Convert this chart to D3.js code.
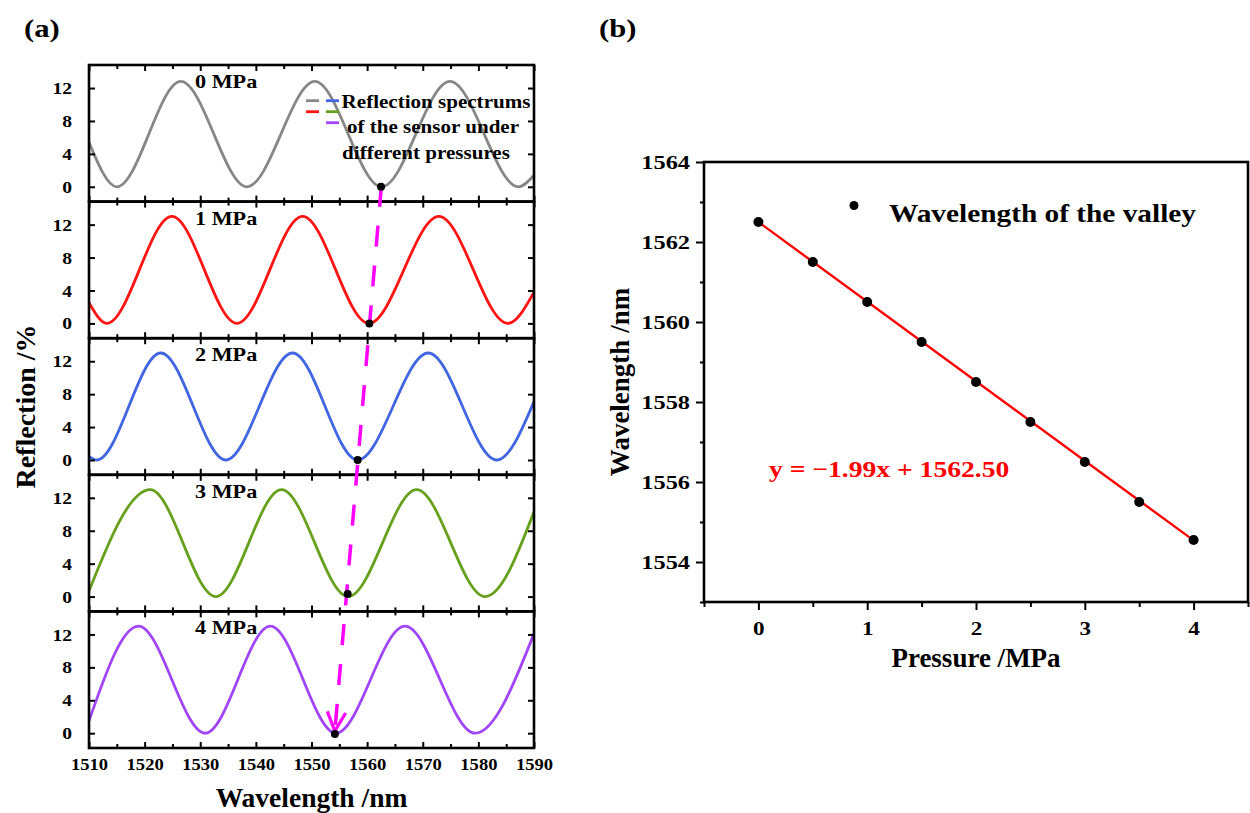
<!DOCTYPE html>
<html><head><meta charset="utf-8">
<script src="https://cdn.jsdelivr.net/npm/d3@7"></script>
<style>
body{margin:0;background:#fff;}
svg{display:block;font-family:"Liberation Serif","Times New Roman",serif;font-weight:bold;}
svg text{font-family:"Liberation Serif","Times New Roman",serif !important;font-weight:bold;}
</style></head><body>
<svg id="chart" width="1250" height="813"></svg>
<script>
// ================= DATA =================
// (a) reflection spectra: key points (edges, valleys, peaks)
const pressureLabels = ["0 MPa", "1 MPa", "2 MPa", "3 MPa", "4 MPa"];
const wl0 = [1510, 1515.0, 1526.5, 1538.4, 1550.6, 1562.6, 1574.9, 1587.2, 1590];
const r0  = [5.4, 0, 12.8, 0, 12.8, 0, 12.8, 0, 1.4];
const wl1 = [1510, 1513.2, 1524.9, 1536.6, 1548.4, 1560.3, 1572.9, 1585.3, 1590];
const r1  = [2.5, 0, 13.0, 0, 13.0, 0, 13.0, 0, 3.8];
const wl2 = [1510, 1511.4, 1522.9, 1534.6, 1546.6, 1558.3, 1571.0, 1583.3, 1590];
const r2  = [0.4, 0, 13.0, 0, 13.0, 0, 13.0, 0, 7.1];
const wl3 = [1509.6, 1521.0, 1532.8, 1544.6, 1556.6, 1568.9, 1581.2, 1590];
const r3  = [0, 13.0, 0, 13.0, 0, 13.0, 0, 10.3];
const wl4 = [1510, 1518.9, 1530.9, 1542.6, 1554.4, 1566.8, 1579.4, 1590];
const r4  = [1.5, 13.0, 0, 13.0, 0, 13.0, 0, 12.1];
// valley markers drawn in panel (a)
const valleyMarkWl = [1562.5, 1560.4, 1558.3, 1556.5, 1554.2];
const valleyMarkR  = [0, 0, 0, 0.3, -0.1];
const reflTicks = [0, 4, 8, 12];
const wlMajorTicks = [1510, 1520, 1530, 1540, 1550, 1560, 1570, 1580, 1590];
const wlMinorTicks = [1515, 1525, 1535, 1545, 1555, 1565, 1575, 1585];
const legendLinesA = ["Reflection spectrums", "of the sensor under", "different pressures"];

// (b) valley wavelength vs pressure
const pressure = [0, 0.5, 1, 1.5, 2, 2.5, 3, 3.5, 4];
const valleyWavelength = [1562.5, 1561.5, 1560.5, 1559.5, 1558.5, 1557.5, 1556.5, 1555.5, 1554.55];
const fitSlope = -1.99;
const fitIntercept = 1562.50;
const pMajorTicks = [0, 1, 2, 3, 4];
const pMinorTicks = [-0.5, 0.5, 1.5, 2.5, 3.5, 4.5];
const wMajorTicks = [1554, 1556, 1558, 1560, 1562, 1564];
const wMinorTicks = [1553, 1555, 1557, 1559, 1561, 1563];

// ================= STYLE =================
const spectrumColors = ["#878787", "#ff1414", "#4166e0", "#67a01c", "#a146f7"];
const arrowColor = "#ff00ff";

// ================= DRAW =================
const svg = d3.select("#chart");
const specWl = [wl0, wl1, wl2, wl3, wl4];
const specR = [r0, r1, r2, r3, r4];

function stext(g, x, y, s, size, sx, anchor, fill) {
  return g.append("text")
    .attr("transform", `translate(${x},${y}) scale(${sx},1)`)
    .attr("font-size", size)
    .attr("text-anchor", anchor || "start")
    .attr("fill", fill || "#000")
    .text(s);
}
function styleAxis(g, sw) {
  g.attr("font-family", null).attr("font-size", null);
  g.select(".domain").remove();
  g.selectAll(".tick line").attr("stroke", "#000").attr("stroke-width", sw || 2);
}

// ---------- panel (a) ----------
const A = {x0: 89, x1: 534, y0: 65, y1: 748};
const ph = (A.y1 - A.y0) / 5;
const xA = d3.scaleLinear().domain([1510, 1590]).range([A.x0, A.x1]);
const yA = i => d3.scaleLinear().domain([-1.8, 14.8]).range([A.y0 + (i + 1) * ph, A.y0 + i * ph]);

const gA = svg.append("g");
svg.append("defs").selectAll("clipPath").data(d3.range(5)).join("clipPath")
  .attr("id", i => "clipA" + i)
  .append("rect").attr("x", A.x0).attr("y", i => A.y0 + i * ph).attr("width", A.x1 - A.x0).attr("height", ph);

for (let i = 0; i < 5; i++) {
  const ys = yA(i);
  const top = A.y0 + i * ph, bot = A.y0 + (i + 1) * ph;
  const pts = specWl[i].map((w, k) => [w, specR[i][k]]);
  const line = d3.line().x(d => xA(d[0])).y(d => ys(d[1])).curve(d3.curveMonotoneX);
  gA.append("path").attr("d", line(pts)).attr("fill", "none")
    .attr("stroke", spectrumColors[i]).attr("stroke-width", 2.8)
    .attr("clip-path", `url(#clipA${i})`);

  // y axis left (inward ticks with labels)
  const ayl = gA.append("g").attr("transform", `translate(${A.x0},0)`)
    .call(d3.axisLeft(ys).tickValues(reflTicks).tickSizeInner(-6).tickSizeOuter(0).tickPadding(15.2));
  styleAxis(ayl);
  ayl.selectAll("text").attr("font-size", 17.5).attr("fill", "#000")
    .attr("transform", "scale(1.12,1)");
  // y axis right (inward ticks)
  const ayr = gA.append("g").attr("transform", `translate(${A.x1},0)`)
    .call(d3.axisRight(ys).tickValues(reflTicks).tickSizeInner(-6).tickSizeOuter(0).tickFormat(""));
  styleAxis(ayr);
  // top & bottom x ticks (inward)
  [[top, d3.axisTop], [bot, d3.axisBottom]].forEach(([yy, ax]) => {
    const gM = gA.append("g").attr("transform", `translate(0,${yy})`)
      .call(ax(xA).tickValues(wlMajorTicks).tickSizeInner(-6).tickSizeOuter(0).tickFormat(""));
    styleAxis(gM);
    const gm = gA.append("g").attr("transform", `translate(0,${yy})`)
      .call(ax(xA).tickValues(wlMinorTicks).tickSizeInner(-4).tickSizeOuter(0).tickFormat(""));
    styleAxis(gm);
  });
  // panel frame
  gA.append("rect").attr("x", A.x0).attr("y", top).attr("width", A.x1 - A.x0).attr("height", ph)
    .attr("fill", "none").attr("stroke", "#000").attr("stroke-width", 2.6);
  // panel label
  stext(gA, 195, top + 23, pressureLabels[i], 18.5, 1.2, "start");
}
// bottom x labels
const axb = gA.append("g").attr("transform", `translate(0,${A.y1})`)
  .call(d3.axisBottom(xA).tickValues(wlMajorTicks).tickSizeInner(-6).tickSizeOuter(0).tickPadding(10.5).tickFormat(d3.format("d")));
axb.attr("font-family", null).attr("font-size", null);
axb.selectAll("line").remove();
axb.select(".domain").remove();
axb.selectAll("text").attr("font-size", 16).attr("fill", "#000")
  .attr("transform", "scale(1.16,1)");

// valley markers + arrow
const markPts = valleyMarkWl.map((w, i) => [xA(w), yA(i)(valleyMarkR[i])]);
const p0 = [markPts[0][0], markPts[0][1] + 3];
const p1 = [markPts[4][0], markPts[4][1] - 3];
gA.append("line").attr("x1", p0[0]).attr("y1", p0[1]).attr("x2", p1[0]).attr("y2", p1[1])
  .attr("stroke", arrowColor).attr("stroke-width", 3.5)
  .attr("stroke-dasharray", "21,19").attr("stroke-dashoffset", 4);
{
  const ang = Math.atan2(p0[1] - p1[1], p0[0] - p1[0]);
  const wing = 21, spread = 26 * Math.PI / 180;
  const w1 = [p1[0] + wing * Math.cos(ang - spread), p1[1] + wing * Math.sin(ang - spread)];
  const w2 = [p1[0] + wing * Math.cos(ang + spread), p1[1] + wing * Math.sin(ang + spread)];
  gA.append("path").attr("d", `M${w1[0]},${w1[1]}L${p1[0]},${p1[1]}L${w2[0]},${w2[1]}`)
    .attr("fill", "none").attr("stroke", arrowColor).attr("stroke-width", 3.2).attr("stroke-linejoin", "miter");
}
gA.selectAll("circle.vm").data(markPts).join("circle").attr("class", "vm")
  .attr("cx", d => d[0]).attr("cy", d => d[1]).attr("r", 4).attr("fill", "#000");

// legend of (a)
const legA = gA.append("g");
const legSlots = [[306, 100.7], [326, 100.7], [306, 111.7], [326, 111.7], [326, 122.7]];
const legOrder = [0, 2, 1, 3, 4];
legSlots.forEach((s, k) => {
  legA.append("line").attr("x1", s[0]).attr("x2", s[0] + 13).attr("y1", s[1]).attr("y2", s[1])
    .attr("stroke", spectrumColors[legOrder[k]]).attr("stroke-width", 2.8);
});
stext(legA, 436, 108, legendLinesA[0], 19.5, 1.08, "middle");
stext(legA, 433, 133, legendLinesA[1], 19.5, 1.08, "middle");
stext(legA, 426, 158.5, legendLinesA[2], 19.5, 1.08, "middle");

// titles (a)
stext(svg, 311.5, 806.5, "Wavelength /nm", 27.5, 1, "middle");
svg.append("text").attr("transform", "translate(35,406.5) rotate(-90)")
  .attr("font-size", 28).attr("text-anchor", "middle").text("Reflection /%");
stext(svg, 24, 37, "(a)", 26, 1.18, "start");
stext(svg, 599, 37, "(b)", 26, 1.18, "start");

// ---------- panel (b) ----------
const B = {x0: 704, x1: 1248, y0: 162, y1: 602};
const xB = d3.scaleLinear().domain([-0.5, 4.5]).range([B.x0, B.x1]);
const yB = d3.scaleLinear().domain([1553, 1564]).range([B.y1, B.y0]);
const gB = svg.append("g");

const byM = gB.append("g").attr("transform", `translate(${B.x0},0)`)
  .call(d3.axisLeft(yB).tickValues(wMajorTicks).tickSizeInner(8).tickSizeOuter(0).tickPadding(3.2).tickFormat(d3.format("d")));
styleAxis(byM);
byM.selectAll("text").attr("font-size", 19.5).attr("fill", "#000")
  .attr("transform", "scale(1.25,1)");
const bym = gB.append("g").attr("transform", `translate(${B.x0},0)`)
  .call(d3.axisLeft(yB).tickValues(wMinorTicks).tickSizeInner(4).tickSizeOuter(0).tickFormat(""));
styleAxis(bym);
const bxM = gB.append("g").attr("transform", `translate(0,${B.y1})`)
  .call(d3.axisBottom(xB).tickValues(pMajorTicks).tickSizeInner(8).tickSizeOuter(0).tickPadding(11.9).tickFormat(d3.format("d")));
styleAxis(bxM);
bxM.selectAll("text").attr("font-size", 18.5).attr("fill", "#000")
  .attr("transform", "scale(1.25,1)");
const bxm = gB.append("g").attr("transform", `translate(0,${B.y1})`)
  .call(d3.axisBottom(xB).tickValues(pMinorTicks).tickSizeInner(5).tickSizeOuter(0).tickFormat(""));
styleAxis(bxm);
gB.append("rect").attr("x", B.x0).attr("y", B.y0).attr("width", B.x1 - B.x0).attr("height", B.y1 - B.y0)
  .attr("fill", "none").attr("stroke", "#000").attr("stroke-width", 2.6);

// fit line
const fitX = [pressure[0], pressure[pressure.length - 1]];
gB.append("line")
  .attr("x1", xB(fitX[0])).attr("y1", yB(fitIntercept + fitSlope * fitX[0]))
  .attr("x2", xB(fitX[1])).attr("y2", yB(fitIntercept + fitSlope * fitX[1]))
  .attr("stroke", "#ff0000").attr("stroke-width", 2.4);
gB.selectAll("circle.pt").data(pressure.map((p, i) => [p, valleyWavelength[i]])).join("circle")
  .attr("class", "pt").attr("cx", d => xB(d[0])).attr("cy", d => yB(d[1])).attr("r", 5).attr("fill", "#000");

// legend & equation
gB.append("circle").attr("cx", 854).attr("cy", 205.5).attr("r", 4.5).attr("fill", "#000");
stext(gB, 889, 222, "Wavelength of the valley", 25.5, 1.15, "start");
stext(gB, 769, 477, "y = \u22121.99x + 1562.50", 23, 1.2, "start", "#ff0000");

// titles (b)
stext(svg, 976, 667, "Pressure /MPa", 27, 1, "middle");
svg.append("text").attr("transform", "translate(629,382) rotate(-90)")
  .attr("font-size", 27).attr("text-anchor", "middle").text("Wavelength /nm");
</script>
</body></html>
